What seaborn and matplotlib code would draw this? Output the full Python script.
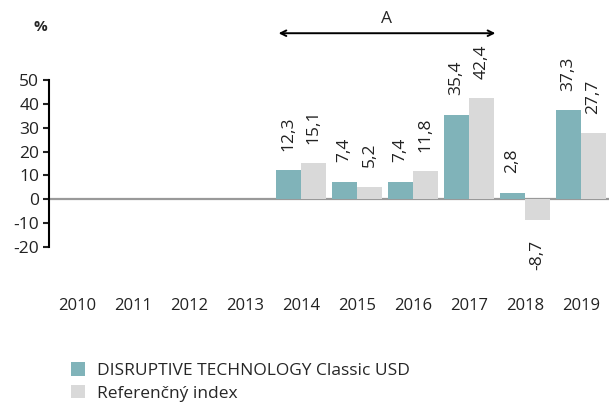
import pandas as pd
import matplotlib.pyplot as plt
import seaborn as sns

# data
years = ['2010', '2011', '2012', '2013', '2014', '2015', '2016', '2017', '2018', '2019']
fund_years = ['2014', '2015', '2016', '2017', '2018', '2019']
fund = [12.3, 7.4, 7.4, 35.4, 2.8, 37.3]
index = [15.1, 5.2, 11.8, 42.4, -8.7, 27.7]
series_names = ['DISRUPTIVE TECHNOLOGY Classic USD', 'Referenčný index']
colors = ['#80b3b9', '#d9d9d9']

df = pd.DataFrame({
    'year': fund_years * 2,
    'value': fund + index,
    'series': [series_names[0]] * len(fund) + [series_names[1]] * len(index),
})

sns.set_style('white')
plt.rcParams['font.family'] = ['Open Sans', 'DejaVu Sans']
plt.rcParams['axes.unicode_minus'] = False

fig = plt.figure(figsize=(6.09, 4.03), dpi=100)
ax = fig.add_axes([0.0805, 0.387, 0.9195, 0.4145])

sns.barplot(data=df, x='year', y='value', hue='series', order=years,
            hue_order=series_names, palette=colors, width=0.9,
            saturation=1, linewidth=0, ax=ax, legend=True)

for c in ax.containers:
    labs = [f"{v:.1f}".replace('.', ',') for v in c.datavalues]
    ax.bar_label(c, labels=labs, rotation=90, padding=14, fontsize=12.5, color='#222222')

ax.axhline(0, color='#999999', lw=1.6, zorder=0.5)
ax.set_ylim(-20, 50)
ax.set_xlim(-0.5, 9.5)
ax.set_yticks([-20, -10, 0, 10, 20, 30, 40, 50])
ax.set_xlabel('')
ax.set_ylabel('')
for s in ['top', 'right', 'bottom']:
    ax.spines[s].set_visible(False)
ax.spines['left'].set_color('black')
ax.spines['left'].set_linewidth(1.5)
ax.tick_params(axis='y', left=True, length=4, width=1.5, labelsize=12.5, pad=3,
               colors='#222222')
ax.tick_params(axis='x', length=0, pad=37, labelsize=12, colors='#222222')

# period arrow
ax.annotate('', xy=(3.55, 69.6), xytext=(7.52, 69.6),
            arrowprops=dict(arrowstyle='<->', color='black', lw=1.4),
            annotation_clip=False)
ax.text(5.52, 72, 'A', ha='center', va='bottom', fontsize=12.5, clip_on=False)
fig.text(0.066, 0.932, '%', ha='center', va='center', fontsize=11, fontweight='bold')

ax.legend(loc='upper left', bbox_to_anchor=(0.04, -0.69), frameon=False,
          fontsize=12.5, handlelength=0.8, handleheight=0.8, handletextpad=0.7,
          labelspacing=0.35, borderaxespad=0, borderpad=0)

fig.savefig('out.png', dpi=100)
